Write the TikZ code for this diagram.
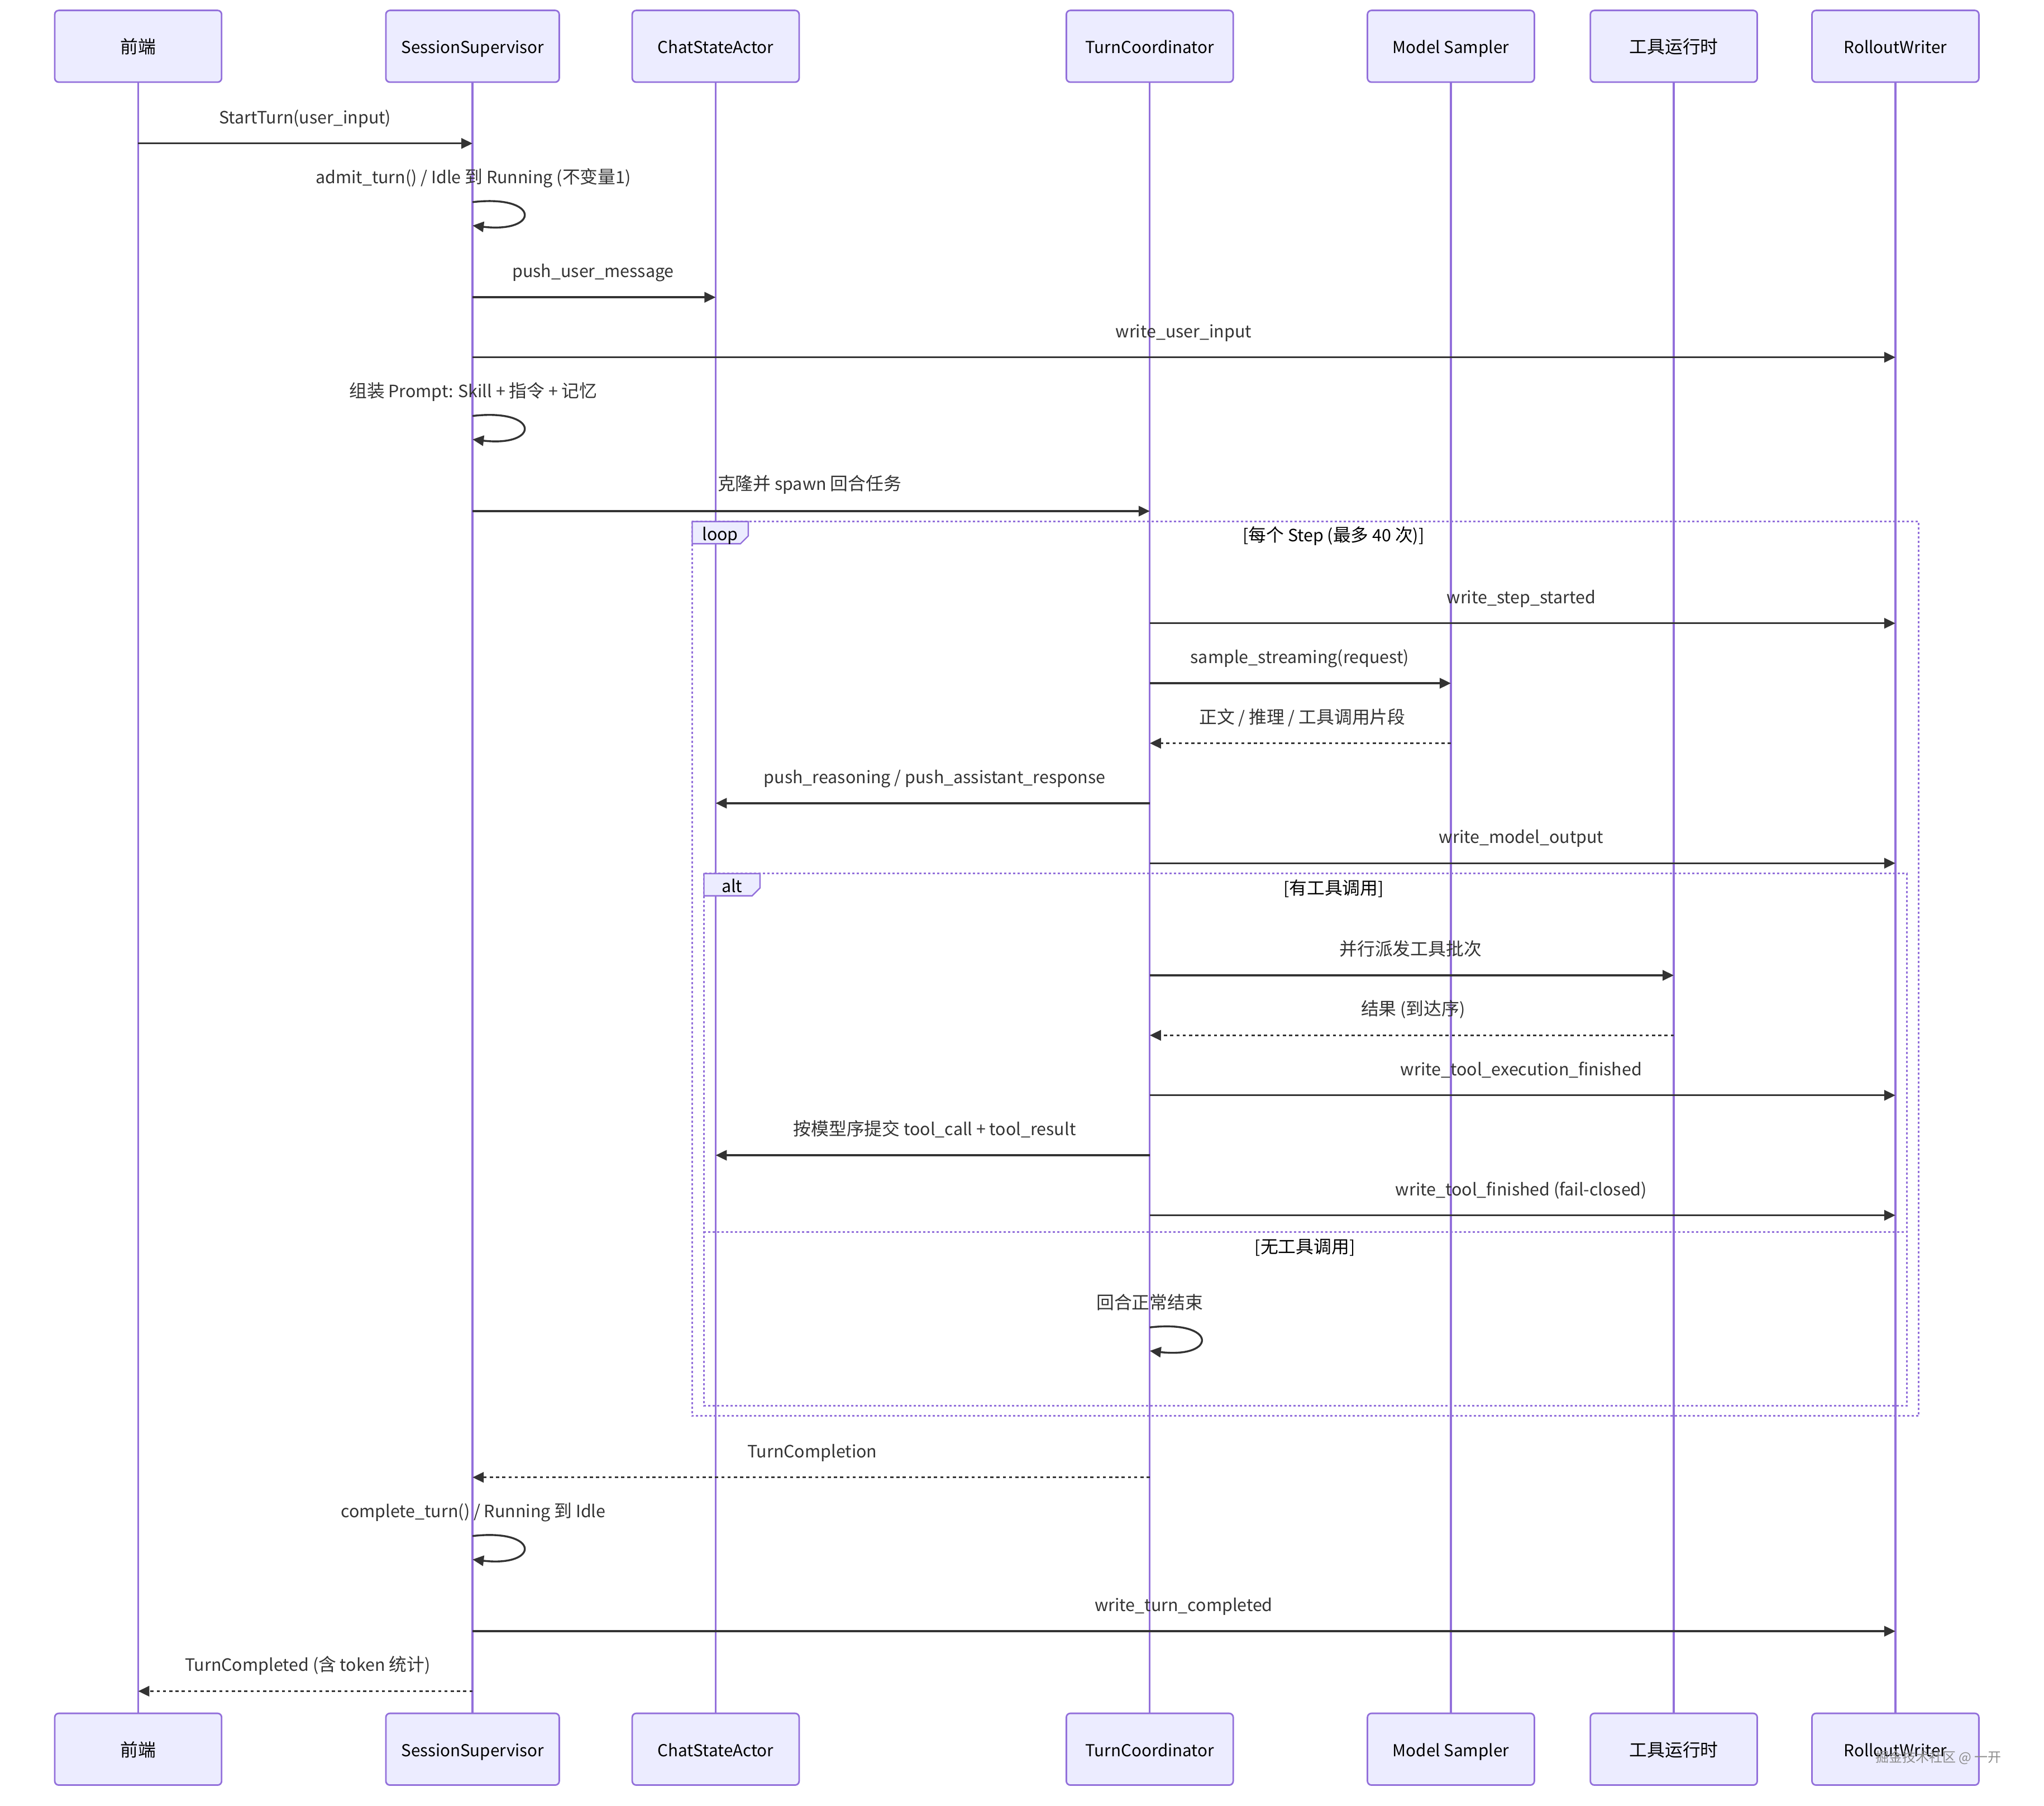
\documentclass[tikz,border=0pt]{standalone}
\usepackage{fontspec}
\setmainfont{Noto Sans CJK SC}
\usetikzlibrary{arrows.meta}
\definecolor{actfill}{HTML}{ECECFF}
\definecolor{actdraw}{HTML}{9370DB}
\definecolor{msgc}{HTML}{333333}
\newcommand\fs{\fontsize{7.6pt}{9pt}\selectfont}
\newcommand\afs{\fontsize{7.4pt}{9pt}\selectfont}
\newcommand\cj[1]{{\fontsize{7.95pt}{9pt}\selectfont #1}}
\begin{document}
\begin{tikzpicture}[x=0.5835pt,y=-0.5835pt,
  actor/.style={draw=actdraw, fill=actfill, line width=0.7pt, rounded corners=1.8pt,
    minimum width=74.7pt, minimum height=32.1pt, inner sep=0pt, font=\afs, text=black,
    text height=7pt, text depth=0.6pt},
  wideactor/.style={actor, minimum width=77.6pt},
  life/.style={draw=actdraw, line width=0.85pt},
  msgline/.style={draw=msgc, line width=0.85pt, -{Triangle[length=5pt,width=4.6pt]}},
  retline/.style={msgline, dash pattern=on 1.4pt off 1.4pt},
  lbl/.style={font=\fs, text=msgc, inner sep=0pt, text height=6.6pt, text depth=1pt},
  cond/.style={lbl, text=black},
  frame/.style={draw=actdraw, line width=0.75pt, dash pattern=on 1pt off 1pt},
  lbox/.style={draw=actdraw, fill=actfill, line width=0.6pt},
]
\useasboundingbox (0,0) rectangle (1568,1385);
% participants top
\node[actor] (fe) at (106,35.5) {\cj{前端}};
\node[wideactor] (ss) at (362.5,35.5) {SessionSupervisor};
\node[actor] (ca) at (549,35.5) {ChatStateActor};
\node[actor] (tc) at (882,35.5) {TurnCoordinator};
\node[actor] (ms) at (1113,35.5) {Model Sampler};
\node[actor] (tr) at (1284,35.5) {\cj{工具运行时}};
\node[actor] (rw) at (1454,35.5) {RolloutWriter};
% participants bottom
\node[actor] (feb) at (106,1341.5) {\cj{前端}};
\node[wideactor] (ssb) at (362.5,1341.5) {SessionSupervisor};
\node[actor] (cab) at (549,1341.5) {ChatStateActor};
\node[actor] (tcb) at (882,1341.5) {TurnCoordinator};
\node[actor] (msb) at (1113,1341.5) {Model Sampler};
\node[actor] (trb) at (1284,1341.5) {\cj{工具运行时}};
\node[actor] (rwb) at (1454,1341.5) {RolloutWriter};
% lifelines
\draw[life] (fe.south) -- (feb.north);
\draw[life] (ss.south) -- (ssb.north);
\draw[life] (ca.south) -- (cab.north);
\draw[life] (tc.south) -- (tcb.north);
\draw[life] (ms.south) -- (msb.north);
\draw[life] (tr.south) -- (trb.north);
\draw[life] (rw.south) -- (rwb.north);

% loop frame
\draw[frame] (531,400) rectangle (1472,1086);
\draw[lbox] (531,400) -- (574,400) -- (574,411) -- (568,417) -- (531,417) -- cycle;
\node[cond] (looplbl) at (552.5,409.5) {loop};
\node[cond] (loopcond) at (1023,410.5) {[\cj{每个} Step (\cj{最多} 40 \cj{次})]};
% alt frame
\draw[frame] (540,670) rectangle (1463,1078);
\draw[frame] (540,945) -- (1463,945);
\draw[lbox] (540,670) -- (583,670) -- (583,681) -- (577,687) -- (540,687) -- cycle;
\node[cond] (altlbl) at (561.5,679.5) {alt};
\node[cond] (altcond) at (1023,681.5) {[\cj{有工具调用}]};
\node[cond] (elsecond) at (1001,956.5) {[\cj{无工具调用}]};

% messages
\node[lbl] (l1) at (234,90) {StartTurn(user\_input)};
\draw[msgline] (fe |- 0,110) -- (ss |- 0,110);

\node[lbl] (l2) at (363,136) {admit\_turn() / Idle \cj{到} Running (\cj{不变量}1)};
\draw[msgline] (ss |- 0,155) .. controls +(52,-6) and +(52,6) .. (ss |- 0,173);

\node[lbl] (l3) at (455,208) {push\_user\_message};
\draw[msgline] (ss |- 0,228) -- (ca |- 0,228);

\node[lbl] (l4) at (908,254) {write\_user\_input};
\draw[msgline] (ss |- 0,274) -- (rw |- 0,274);

\node[lbl] (l5) at (363,300) {\cj{组装} Prompt: Skill + \cj{指令} + \cj{记忆}};
\draw[msgline] (ss |- 0,319) .. controls +(52,-6) and +(52,6) .. (ss |- 0,337);

\node[lbl] (l6) at (621,371) {\cj{克隆并} spawn \cj{回合任务}};
\draw[msgline] (ss |- 0,392) -- (tc |- 0,392);

\node[lbl] (l7) at (1167,458) {write\_step\_started};
\draw[msgline] (tc |- 0,478) -- (rw |- 0,478);

\node[lbl] (l8) at (997,504) {sample\_streaming(request)};
\draw[msgline] (tc |- 0,524) -- (ms |- 0,524);

\node[lbl] (l9) at (999,550) {\cj{正文} / \cj{推理} / \cj{工具调用片段}};
\draw[retline] (ms |- 0,570) -- (tc |- 0,570);

\node[lbl] (l10) at (717,596) {push\_reasoning / push\_assistant\_response};
\draw[msgline] (tc |- 0,616) -- (ca |- 0,616);

\node[lbl] (l11) at (1167,642) {write\_model\_output};
\draw[msgline] (tc |- 0,662) -- (rw |- 0,662);

\node[lbl] (l12) at (1082,728) {\cj{并行派发工具批次}};
\draw[msgline] (tc |- 0,748) -- (tr |- 0,748);

\node[lbl] (l13) at (1084,774) {\cj{结果} (\cj{到达序})};
\draw[retline] (tr |- 0,794) -- (tc |- 0,794);

\node[lbl] (l14) at (1167,820) {write\_tool\_execution\_finished};
\draw[msgline] (tc |- 0,840) -- (rw |- 0,840);

\node[lbl] (l15) at (717,866) {\cj{按模型序提交} tool\_call + tool\_result};
\draw[msgline] (tc |- 0,886) -- (ca |- 0,886);

\node[lbl] (l16) at (1167,912) {write\_tool\_finished (fail-closed)};
\draw[msgline] (tc |- 0,932) -- (rw |- 0,932);

\node[lbl] (l17) at (882,999) {\cj{回合正常结束}};
\draw[msgline] (tc |- 0,1018) .. controls +(52,-6) and +(52,6) .. (tc |- 0,1036);

\node[lbl] (l18) at (623,1113) {TurnCompletion};
\draw[retline] (tc |- 0,1133) -- (ss |- 0,1133);

\node[lbl] (l19) at (363,1159) {complete\_turn() / Running \cj{到} Idle};
\draw[msgline] (ss |- 0,1178) .. controls +(52,-6) and +(52,6) .. (ss |- 0,1196);

\node[lbl] (l20) at (908,1231) {write\_turn\_completed};
\draw[msgline] (ss |- 0,1251) -- (rw |- 0,1251);

\node[lbl] (l21) at (236,1277) {TurnCompleted (\cj{含} token \cj{统计})};
\draw[retline] (ss |- 0,1297) -- (fe |- 0,1297);

% watermark
\node[inner sep=0pt, text=black!45, font=\fontsize{6pt}{7pt}\selectfont] (wm) at (1487,1348) {掘金技术社区 @ 一开};
\end{tikzpicture}
\end{document}
